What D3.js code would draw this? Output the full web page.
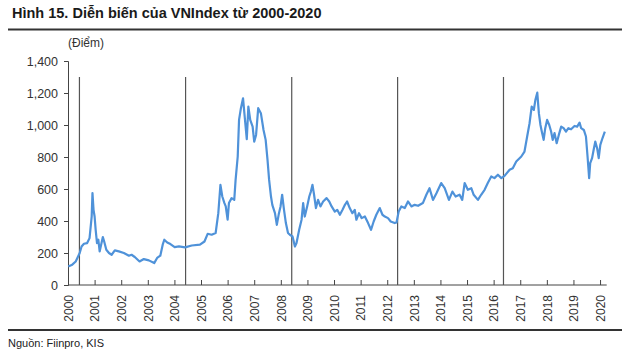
<!DOCTYPE html>
<html>
<head>
<meta charset="utf-8">
<script src="https://cdn.jsdelivr.net/npm/d3@7/dist/d3.min.js"></script>
<style>
  html, body { margin: 0; padding: 0; background: #fff; }
  svg { display: block; }
</style>
</head>
<body>
<svg id="chart" width="630" height="353"></svg>
<script>
// ---- data (decimal year, index points) ----
const years = [
  2000.01, 2000.16, 2000.29, 2000.44, 2000.51, 2000.60, 2000.72, 2000.81, 2000.89, 2000.92,
  2000.96, 2001.00, 2001.04, 2001.09, 2001.14, 2001.19, 2001.26, 2001.31, 2001.36, 2001.44,
  2001.54, 2001.64, 2001.76, 2001.91, 2002.10, 2002.29, 2002.39, 2002.51, 2002.69, 2002.85,
  2003.04, 2003.24, 2003.35, 2003.47, 2003.56, 2003.62, 2003.73, 2003.85, 2004.01, 2004.17,
  2004.40, 2004.65, 2004.96, 2005.13, 2005.25, 2005.40, 2005.55, 2005.65, 2005.73, 2005.80,
  2005.88, 2005.93, 2006.00, 2006.05, 2006.15, 2006.25, 2006.30, 2006.38, 2006.43, 2006.50,
  2006.58, 2006.63, 2006.72, 2006.78, 2006.85, 2006.94, 2007.00, 2007.07, 2007.15, 2007.25,
  2007.35, 2007.43, 2007.50, 2007.56, 2007.63, 2007.68, 2007.78, 2007.85, 2007.93, 2007.99,
  2008.05, 2008.12, 2008.19, 2008.27, 2008.34, 2008.44, 2008.53, 2008.59, 2008.69, 2008.78,
  2008.84, 2008.90, 2008.99, 2009.07, 2009.13, 2009.19, 2009.25, 2009.32, 2009.40, 2009.49,
  2009.59, 2009.72, 2009.82, 2009.91, 2010.03, 2010.12, 2010.22, 2010.32, 2010.41, 2010.49,
  2010.59, 2010.69, 2010.78, 2010.84, 2010.94, 2011.04, 2011.16, 2011.28, 2011.39, 2011.49,
  2011.59, 2011.72, 2011.82, 2011.91, 2012.03, 2012.13, 2012.28, 2012.35, 2012.43, 2012.53,
  2012.66, 2012.78, 2012.91, 2013.03, 2013.16, 2013.34, 2013.47, 2013.59, 2013.72, 2013.85,
  2014.03, 2014.16, 2014.32, 2014.45, 2014.57, 2014.72, 2014.82, 2014.91, 2015.03, 2015.16,
  2015.25, 2015.41, 2015.53, 2015.66, 2015.78, 2015.91, 2016.03, 2016.16, 2016.29, 2016.41,
  2016.60, 2016.72, 2016.85, 2017.04, 2017.16, 2017.26, 2017.35, 2017.43, 2017.51, 2017.57,
  2017.64, 2017.70, 2017.76, 2017.81, 2017.88, 2017.94, 2018.01, 2018.09, 2018.16, 2018.22,
  2018.29, 2018.37, 2018.45, 2018.54, 2018.63, 2018.72, 2018.81, 2018.91, 2019.04, 2019.14,
  2019.23, 2019.29, 2019.39, 2019.47, 2019.53, 2019.59, 2019.63, 2019.70, 2019.76, 2019.82,
  2019.89, 2019.95, 2020.01, 2020.09, 2020.18
];
const values = [
  116, 127, 147, 200, 241, 258, 262, 293, 428, 574,
  470, 428, 345, 262, 283, 210, 262, 300, 272, 220,
  200, 189, 216, 210, 200, 183, 189, 175, 147, 162,
  154, 137, 169, 183, 252, 283, 266, 256, 237, 241,
  235, 247, 252, 272, 320, 314, 325, 449, 626, 553,
  512, 491, 408, 512, 543, 532, 657, 803, 1032, 1105,
  1167, 1074, 911, 1115, 1032, 990, 896, 938, 1105, 1074,
  969, 907, 782, 657, 553, 501, 449, 376, 449, 491,
  564, 470, 387, 325, 314, 303, 241, 262, 345, 408,
  512, 428, 491, 553, 584, 626, 564, 481, 532, 491,
  522, 543, 522, 491, 459, 470, 439, 470, 501, 522,
  481, 449, 470, 408, 449, 418, 428, 387, 345, 397,
  439, 481, 439, 428, 418, 397, 387, 391, 459, 491,
  481, 522, 491, 501, 495, 512, 564, 605, 532, 574,
  637, 605, 532, 584, 553, 564, 532, 637, 595, 605,
  564, 532, 564, 595, 637, 678, 668, 689, 668, 682,
  720, 730, 772, 803, 834, 928, 1011, 1115, 1094, 1157,
  1202, 1074, 1000, 959, 907, 980, 1032, 1000, 959, 907,
  949, 886, 938, 990, 980, 959, 980, 973, 994, 990,
  1015, 980, 969, 928, 803, 668, 761, 793, 845, 896,
  855, 793, 876, 917, 959
];
const yearTicks = d3.range(2000, 2021);
const valueTicks = [0, 200, 400, 600, 800, 1000, 1200, 1400];
const markerYears = [2000.43, 2004.42, 2008.41, 2012.39, 2016.37];
const markerTop = 1300;

const titleText = "Hình 15. Diễn biến của VNIndex từ 2000-2020";
const unitText = "(Điểm)";
const sourceText = "Nguồn: Fiinpro, KIS";

// ---- drawing ----
const svg = d3.select("#chart");
const FONT = "'Liberation Sans', Arial, sans-serif";

const x = d3.scaleLinear().domain([2000, 2020.25]).range([68, 606.7]);
const y = d3.scaleLinear().domain([0, 1400]).range([285, 61]);

// title
svg.append("text")
  .attr("x", 12).attr("y", 18)
  .attr("font-family", FONT).attr("font-weight", "bold")
  .attr("font-size", 14.5).attr("fill", "#1a1a1a")
  .text(titleText);

svg.append("line")
  .attr("x1", 8).attr("x2", 622).attr("y1", 29.5).attr("y2", 29.5)
  .attr("stroke", "#333").attr("stroke-width", 2);

svg.append("text")
  .attr("x", 68).attr("y", 47)
  .attr("font-family", FONT).attr("font-size", 12).attr("fill", "#333")
  .text(unitText);

// y axis
const yAxis = d3.axisLeft(y).tickValues(valueTicks).tickSize(4).tickPadding(6)
  .tickFormat(d3.format(","));
const gy = svg.append("g").attr("transform", "translate(68,0)").call(yAxis);
gy.select(".domain").attr("stroke", "#444");
gy.selectAll(".tick line").attr("stroke", "#444");
gy.selectAll(".tick text").attr("font-family", FONT).attr("font-size", 12.5).attr("fill", "#333");

// x axis
const xAxis = d3.axisBottom(x).tickValues(yearTicks).tickSize(-5).tickPadding(0)
  .tickFormat(d3.format("d"));
const gx = svg.append("g").attr("transform", "translate(0,285)").call(xAxis);
gx.select(".domain").attr("stroke", "#444").attr("d", `M68,0H606.7`);
gx.selectAll(".tick line").attr("stroke", "#444");
gx.selectAll(".tick text")
  .attr("font-family", FONT).attr("font-size", 12).attr("fill", "#333")
  .attr("transform", "rotate(-90)")
  .attr("text-anchor", "end")
  .attr("x", -10).attr("y", 0).attr("dy", "0.35em");

// vertical marker lines
svg.append("g").selectAll("line").data(markerYears).join("line")
  .attr("x1", d => x(d)).attr("x2", d => x(d))
  .attr("y1", y(0)).attr("y2", y(markerTop))
  .attr("stroke", "#555").attr("stroke-width", 1.2);

// index line
const pts = years.map((yr, i) => [yr, values[i]]);
svg.append("path")
  .datum(pts)
  .attr("fill", "none")
  .attr("stroke", "#4f92d9")
  .attr("stroke-width", 2.2)
  .attr("stroke-linejoin", "round")
  .attr("d", d3.line().x(d => x(d[0])).y(d => y(d[1])));

// bottom rule and source
svg.append("line")
  .attr("x1", 8).attr("x2", 622).attr("y1", 330).attr("y2", 330)
  .attr("stroke", "#333").attr("stroke-width", 2);

svg.append("text")
  .attr("x", 8).attr("y", 347)
  .attr("font-family", FONT).attr("font-size", 11).attr("fill", "#222")
  .text(sourceText);
</script>
</body>
</html>
